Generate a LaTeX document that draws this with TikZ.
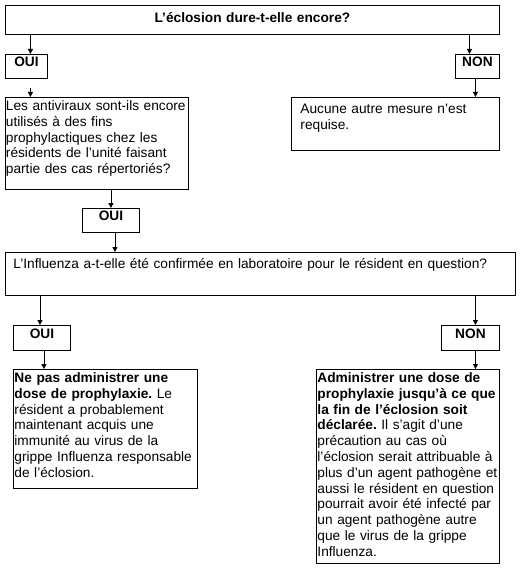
\documentclass[tikz,border=0pt]{standalone}
\usepackage{fontspec}
\setmainfont{Liberation Sans}
\usepackage{tikz}
\usetikzlibrary{arrows.meta,positioning,calc}
\frenchspacing

\begin{document}
\begin{tikzpicture}[x=1pt,y=-1pt,
    box/.style={draw,line width=0.9pt,anchor=north west,inner ysep=0pt,
      inner xsep=1pt,align=left,font=\fontsize{13.7pt}{15.8pt}\selectfont},
    tag/.style={box,align=center,inner xsep=0pt,font=\fontsize{13.7pt}{15.8pt}\selectfont\bfseries},
    arr/.style={-{Triangle[length=5pt,width=5pt]},line width=0.8pt}]
  \useasboundingbox (0,0) rectangle (520,572);

  % Main question
  \node[tag,text width=494pt,text height=17pt,text depth=12pt] (titre) at (5,5)
    {L’éclosion dure-t-elle encore?};

  % First answers
  \node[tag,text width=42pt,text height=12pt,text depth=12pt] (oui1) at (5,54) {OUI};
  \node[tag,text width=44pt,text height=12pt,text depth=12pt] (non1) at (455,54) {NON};

  % Follow-up boxes
  \node[box,inner xsep=0.5pt,text width=182pt,text height=13pt,text depth=79pt] (question) at (5,97)
    {Les antiviraux sont-ils encore\\
     utilisés à des fins\\
     prophylactiques chez les\\
     résidents de l’unité faisant\\
     partie des cas répertoriés?};
  \node[box,inner xsep=9pt,text width=190pt,text height=16pt,text depth=37pt] (aucune) at (291,97)
    {Aucune autre mesure n’est\\
     requise.};

  \node[tag,text width=57pt,text height=12pt,text depth=12pt] (oui2) at (82,208) {OUI};

  % Second question
  \node[box,inner xsep=8pt,text width=494pt,text height=16pt,text depth=27pt] (influenza) at (5,252)
    {L’Influenza a-t-elle été confirmée en laboratoire pour le résident en question?};

  \node[tag,text width=57pt,text height=13pt,text depth=12pt] (oui3) at (13,325) {OUI};
  \node[tag,text width=58pt,text height=13pt,text depth=12pt] (non2) at (441,325) {NON};

  % Final advice
  \node[box,text width=182pt,text height=13pt,text depth=106pt] (nepas) at (13,369)
    {\textbf{Ne pas administrer une}\\
     \textbf{dose de prophylaxie.} Le\\
     résident a probablement\\
     maintenant acquis une\\
     immunité au virus de la\\
     grippe Influenza responsable\\
     de l’éclosion.};
  \node[box,text width=181pt,text height=13pt,text depth=181pt] (admin) at (316,369)
    {\textbf{Administrer une dose de}\\
     \textbf{prophylaxie jusqu’à ce que}\\
     \textbf{la fin de l’éclosion soit}\\
     \textbf{déclarée.} Il s’agit d’une\\
     précaution au cas où\\
     l’éclosion serait attribuable à\\
     plus d’un agent pathogène et\\
     aussi le résident en question\\
     pourrait avoir été infecté par\\
     un agent pathogène autre\\
     que le virus de la grippe\\
     Influenza.};

  % Arrows
  \draw[arr] ([xshift=4pt]titre.south -| oui1.north) -- ([xshift=4pt]oui1.north);
  \draw[arr] ([xshift=-8pt]titre.south -| non1.north) -- ([xshift=-8pt]non1.north);
  \draw[arr,shorten <=9pt] ([xshift=4pt]oui1.south) -- ([xshift=4pt]oui1.south |- question.north);
  \draw[arr] ([xshift=-2pt]non1.south) -- ([xshift=-2pt]non1.south |- aucune.north);
  \draw[arr] (question.south -| oui2.north) -- (oui2.north);
  \draw[arr] ([xshift=4pt]oui2.south) -- ([xshift=4pt]oui2.south |- influenza.north);
  \draw[arr] ([xshift=-2pt]influenza.south -| oui3.north) -- ([xshift=-2pt]oui3.north);
  \draw[arr] ([xshift=2pt]oui3.south) -- ([xshift=2pt]oui3.south |- nepas.north);
  \draw[arr] ([xshift=5pt]influenza.south -| non2.north) -- ([xshift=5pt]non2.north);
  \draw[arr] ([xshift=5pt]non2.south) -- ([xshift=5pt]non2.south |- admin.north);
\end{tikzpicture}
\end{document}
